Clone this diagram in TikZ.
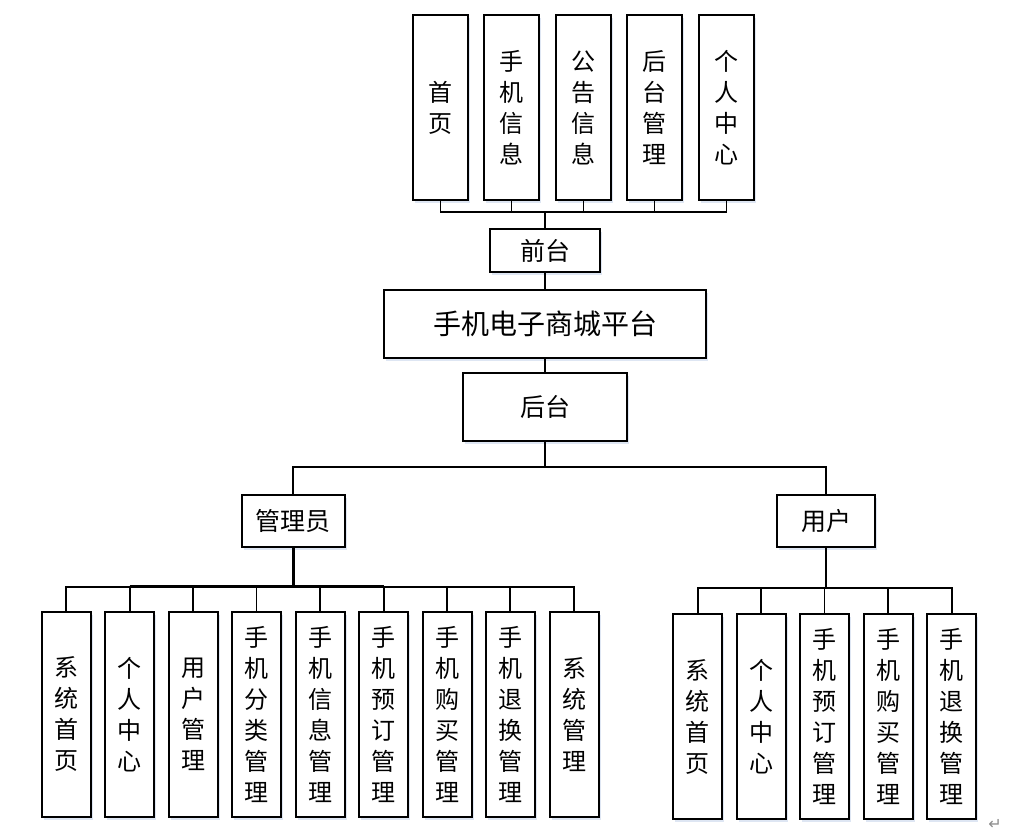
\documentclass[tikz,border=0pt]{standalone}
\usepackage{fontspec}
\newfontfamily\cjk{Noto Sans CJK SC}
\newfontfamily\dejavu{DejaVu Sans}
\usetikzlibrary{shadows}
\definecolor{shadowc}{RGB}{214,224,240}
\tikzset{
  box/.style={draw=black, line width=2pt, fill=white, inner sep=0pt,
    align=center, font=\cjk\fontsize{24}{31}\selectfont,
    drop shadow={shadow xshift=2pt, shadow yshift=-3pt, fill=shadowc, opacity=0.8}},
  hbox/.style={box, font=\cjk\fontsize{25}{30}\selectfont},
  tbox/.style={box, font=\cjk\fontsize{28}{32}\selectfont},
  col/.style={box, minimum width=49pt, minimum height=205pt},
  tcol/.style={box, minimum width=55pt, minimum height=185pt},
  conn/.style={line width=1.7pt, draw=black},
  thickconn/.style={line width=3pt, draw=black}
}
\begin{document}
\begin{tikzpicture}[x=1pt,y=-1pt]
\useasboundingbox (0,0) rectangle (1022,840);
% top columns
\node[tcol] (t1) at (440.5,107.5) {首\\页};
\node[tcol] (t2) at (511.5,107.5) {手\\机\\信\\息};
\node[tcol] (t3) at (583.5,107.5) {公\\告\\信\\息};
\node[tcol] (t4) at (654.5,107.5) {后\\台\\管\\理};
\node[tcol] (t5) at (726.5,107.5) {个\\人\\中\\心};
\node[hbox, minimum width=110pt, minimum height=43pt] (qt) at (545,250.5) {前台};
\node[tbox, minimum width=322pt, minimum height=68pt] (pt) at (545,324) {手机电子商城平台};
\node[hbox, minimum width=164pt, minimum height=68pt] (ht) at (545,407) {后台};
\node[hbox, minimum width=103pt, minimum height=51.5pt] (gly) at (293.3,521) {管理员};
\node[hbox, minimum width=98pt, minimum height=51.5pt] (yh) at (826,521) {用户};
% admin columns
\node[col] (a1) at (66.2,714.2) {系\\统\\首\\页};
\node[col] (a2) at (129.7,714.2) {个\\人\\中\\心};
\node[col] (a3) at (193,714.2) {用\\户\\管\\理};
\node[col] (a4) at (256.5,714.2) {手\\机\\分\\类\\管\\理};
\node[col] (a5) at (320,714.2) {手\\机\\信\\息\\管\\理};
\node[col] (a6) at (383.7,714.2) {手\\机\\预\\订\\管\\理};
\node[col] (a7) at (447,714.2) {手\\机\\购\\买\\管\\理};
\node[col] (a8) at (510.3,714.2) {手\\机\\退\\换\\管\\理};
\node[col] (a9) at (574,714.2) {系\\统\\管\\理};
% user columns
\node[col] (u1) at (697.8,716.7) {系\\统\\首\\页};
\node[col] (u2) at (761.2,716.7) {个\\人\\中\\心};
\node[col] (u3) at (824.5,716.7) {手\\机\\预\\订\\管\\理};
\node[col] (u4) at (888.2,716.7) {手\\机\\购\\买\\管\\理};
\node[col] (u5) at (951.7,716.7) {手\\机\\退\\换\\管\\理};
% connectors top
\coordinate (tbus) at (545,212);
\foreach \n in {t1,t2,t3,t4,t5} \draw[conn] (\n.south) |- (tbus);
\draw[conn] (tbus) -- (qt.north);
\draw[conn] (qt.south) -- (pt.north);
\draw[conn] (pt.south) -- (ht.north);
\coordinate (hbus) at (545,466.7);
\draw[conn] (ht.south) -- (hbus);
\draw[conn] (hbus) -| (gly.north);
\draw[conn] (hbus) -| (yh.north);
% admin
\coordinate (abus) at (293.3,586.7);
\draw[thickconn] (gly.south) -- (abus);
\foreach \n in {a1,a2,a3,a4,a5,a6,a7,a8,a9} \draw[conn] (\n.north) |- (abus);
\draw[thickconn] (a2.north |- abus) -- (a6.north |- abus);
% user
\coordinate (ubus) at (826,588.3);
\draw[conn] (yh.south) -- (ubus);
\foreach \n in {u1,u2,u3,u4,u5} \draw[conn] (\n.north) |- (ubus);
\node[text=black!45, font=\dejavu\fontsize{16}{16}\selectfont, inner sep=0pt] (ret) at (995,824) {↵};
\end{tikzpicture}
\end{document}
